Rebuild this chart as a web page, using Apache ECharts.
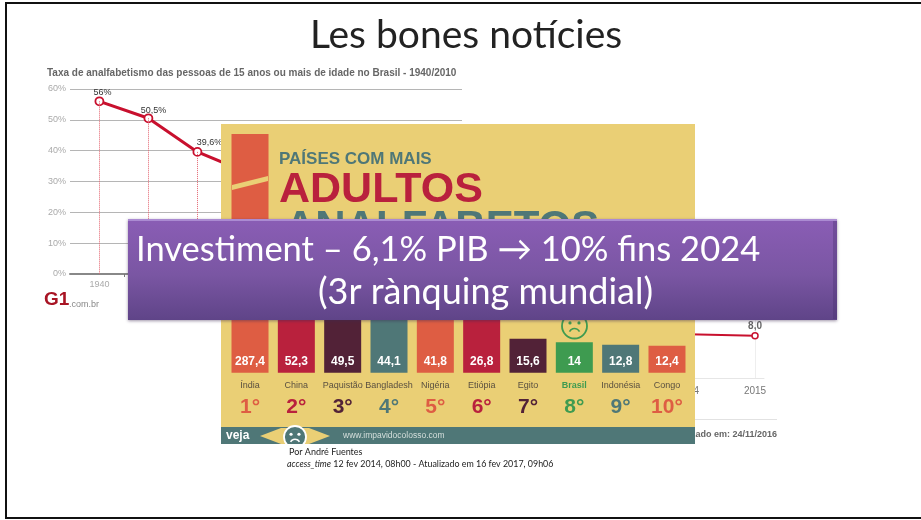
<!DOCTYPE html>
<html>
<head>
<meta charset="utf-8">
<title>Les bones notícies</title>
<script src="https://cdn.jsdelivr.net/npm/echarts@6/dist/echarts.min.js"></script>
<style>
html, body { margin: 0; padding: 0; background: #fff; }
#chart { width: 921px; height: 520px; }
</style>
</head>
<body>
<div id="chart"></div>
<script>
// taxa de analfabetismo (left line chart), only the start of the line is visible
var rateYears = [1940, 1950, 1960, 1970];
var rateValues = [56, 50.5, 39.6, 33];
var rateTickLabels = [1940, 1950, 1960, 1970, 1980, 1991, 2000, 2010];

// recent years (right line chart), mostly covered by the panel
var recentYears = [2014, 2015];
var recentValues = [8.3, 8.0];

// adults panel
var countries = ['Índia', 'China', 'Paquistão', 'Bangladesh', 'Nigéria', 'Etiópia', 'Egito', 'Brasil', 'Indonésia', 'Congo'];
var adults = [287.4, 52.3, 49.5, 44.1, 41.8, 26.8, 15.6, 14, 12.8, 12.4];
var ranks = ['1°', '2°', '3°', '4°', '5°', '6°', '7°', '8°', '9°', '10°'];
var barColors = ['#DE5D43', '#B9213D', '#522237', '#4F7777', '#DE5D43', '#B9213D', '#522237', '#3E9B50', '#4F7777', '#DE5D43'];

// labels of the left line do not sit straight above their points
var rateLabelShift = [[3, 4], [5, 5], [12, 3], [0, 0]];

var sans = '"Liberation Sans", Arial, sans-serif';
var slideFont = 'Lato, "Noto Sans", sans-serif';
var red = '#C8102E';
var teal = '#4F7777';

function comma(v) {
	return String(v).replace('.', ',');
}

var rich = {};
countries.forEach(function(c, i) {
	rich['n' + i] = { fontFamily: sans, fontSize: 9, lineHeight: 14, color: i == 7 ? '#3E9B50' : '#5a5040', fontWeight: i == 7 ? 'bold' : 'normal' };
	rich['r' + i] = { fontFamily: sans, fontSize: 21, lineHeight: 30, color: barColors[i], fontWeight: 'bold' };
});

function rect(x, y, w, h, fill, z) {
	return { type: 'rect', silent: true, z: z, shape: { x: x, y: y, width: w, height: h }, style: { fill: fill } };
}

function text(str, x, y, font, fill, z, align, weight) {
	return {
		type: 'text', silent: true, z: z, x: x, y: y,
		style: { text: str, fontFamily: font[0], fontSize: font[1], fontWeight: weight || 'normal', fill: fill, align: align || 'left', verticalAlign: 'middle' }
	};
}

function face(cx, cy, r, stroke, fill, z) {
	return [
		{ type: 'circle', silent: true, z: z, shape: { cx: cx, cy: cy, r: r }, style: { fill: fill, stroke: stroke, lineWidth: 1.8 } },
		{ type: 'circle', silent: true, z: z + 1, shape: { cx: cx - r * 0.36, cy: cy - r * 0.25, r: 1.6 }, style: { fill: stroke } },
		{ type: 'circle', silent: true, z: z + 1, shape: { cx: cx + r * 0.36, cy: cy - r * 0.25, r: 1.6 }, style: { fill: stroke } },
		{ type: 'arc', silent: true, z: z + 1, shape: { cx: cx, cy: cy + r * 0.65, r: r * 0.45, startAngle: Math.PI * 1.15, endAngle: Math.PI * 1.85 }, style: { fill: null, stroke: stroke, lineWidth: 1.6 } }
	];
}

var decorations = [
	// slide frame
	rect(5, 2, 916, 2, '#111', 30),
	rect(5, 2, 2, 517, '#111', 30),
	rect(5, 517, 916, 2, '#111', 30),

	// g1 logo
	text('G1', 44, 300, [sans, 19], '#A81424', 1, 'left', 'bold'),
	text('.com.br', 69, 305, [sans, 9], '#888', 1),

	// right chart footer, cut by the panel
	rect(640, 419, 137, 1, '#e2e2e2', 1),
	text('Atualizado em: 24/11/2016', 777, 435, [sans, 9], '#666', 1, 'right', 'bold'),

	// panel
	rect(221, 124, 474, 320, '#EACF75', 10),
	{ type: 'polygon', silent: true, z: 12, shape: { points: [[232, 185], [268, 176], [268, 181], [232, 190]] }, style: { fill: '#EACF75' } },
	text('PAÍSES COM MAIS', 279, 159, [sans, 17], teal, 12, 'left', 'bold'),
	text('ADULTOS', 279, 190, [sans, 43], '#B9213D', 12, 'left', 'bold'),
	text('ANALFABETOS', 285, 228, [sans, 42], teal, 12, 'left', 'bold'),

	// panel footer
	rect(221, 427, 474, 17, teal, 12),
	{ type: 'polygon', silent: true, z: 13, shape: { points: [[260, 436], [281, 428], [309, 428], [330, 436], [309, 444], [281, 444]] }, style: { fill: '#EACF75' } },
	rect(280, 444, 30, 6, '#fff', 16),
	text('veja', 226, 436, [sans, 12], '#fff', 13, 'left', 'bold'),
	text('www.impavidocolosso.com', 343, 436, [sans, 8.5], '#d5dfdc', 13),

	// source under the panel
	text('Por André Fuentes', 289, 452, [slideFont, 9], '#222', 17),
	{
		type: 'text', silent: true, z: 17, x: 287, y: 464,
		style: {
			text: '{i|access_time} 12 fev 2014, 08h00 - Atualizado em 16 fev 2017, 09h06',
			fontFamily: slideFont, fontSize: 8.9, fill: '#222', verticalAlign: 'middle',
			rich: { i: { fontFamily: slideFont, fontSize: 8.9, fontStyle: 'italic', fill: '#222' } }
		}
	},

	// slide title
	text('Les bones notícies', 466, 35, [slideFont, 39], '#222', 30, 'center'),

	// purple banner
	{
		type: 'rect', silent: true, z: 20, shape: { x: 128, y: 219, width: 709, height: 101 },
		style: {
			fill: { type: 'linear', x: 0, y: 0, x2: 0, y2: 1, colorStops: [{ offset: 0, color: '#8A5DB5' }, { offset: 0.55, color: '#7A56A3' }, { offset: 1, color: '#5F4488' }] },
			shadowBlur: 3, shadowColor: 'rgba(60,40,80,0.5)', shadowOffsetY: 1
		}
	},
	rect(128, 219, 709, 2, '#AB8BD2', 21),
	rect(833, 221, 4, 98, 'rgba(70,45,110,0.35)', 21),
	text('Investiment – 6,1% PIB → 10% fins 2024', 136, 250, [slideFont, 34.5], '#fff', 22),
	text('(3r rànquing mundial)', 485.5, 292, [slideFont, 36], '#fff', 22, 'center')
].concat(
	face(574.5, 326, 12.5, '#3E9B50', 'rgba(0,0,0,0)', 12),
	face(295, 437, 11, '#fff', teal, 14)
);

var chart = echarts.init(document.getElementById('chart'), null, { renderer: 'canvas' });
chart.setOption({
	animation: false,
	backgroundColor: '#fff',
	title: {
		text: 'Taxa de analfabetismo das pessoas de 15 anos ou mais de idade no Brasil - 1940/2010',
		left: 47,
		top: 68,
		padding: 0,
		textStyle: { fontFamily: sans, fontSize: 10, fontWeight: 'bold', color: '#666' }
	},
	grid: [
		{ left: 70, top: 89, width: 392, height: 185 },
		{ left: 621, top: 320, width: 143, height: 58 },
		{ left: 226.85, top: 134, width: 463.3, height: 238.7, z: 11 }
	],
	xAxis: [
		{
			type: 'value', gridIndex: 0, min: 1934, max: 2014, z: 0,
			splitLine: { show: false },
			axisLine: { onZero: false, lineStyle: { color: '#888', width: 2 } },
			axisTick: { customValues: [1945, 1955, 1965, 1975, 1985, 1995, 2005], length: 3, lineStyle: { color: '#777' } },
			axisLabel: { customValues: rateTickLabels, formatter: function(v) { return String(v); }, fontFamily: sans, fontSize: 9, color: '#aaa', margin: 6 }
		},
		{
			type: 'value', gridIndex: 1, min: 2013, max: 2015.134, interval: 1, z: 0,
			splitLine: { show: true, showMaxLine: false, lineStyle: { color: '#eeeeee' } },
			axisLine: { lineStyle: { color: '#e6e6e6' } },
			axisTick: { show: false },
			axisLabel: { customValues: recentYears, formatter: function(v) { return String(v); }, fontFamily: sans, fontSize: 10, color: '#777', margin: 8 }
		},
		{
			type: 'category', gridIndex: 2, data: countries, z: 11,
			axisLine: { show: false },
			axisTick: { show: false },
			axisLabel: {
				interval: 0, margin: 6, rich: rich, hideOverlap: false,
				formatter: function(v, i) { return '{n' + i + '|' + v + '}\n{r' + i + '|' + ranks[i] + '}'; }
			}
		}
	],
	yAxis: [
		{
			type: 'value', gridIndex: 0, min: 0, max: 60, interval: 10, z: 0,
			axisLine: { show: false },
			axisTick: { show: false },
			splitLine: { lineStyle: { color: '#b5b5b5' } },
			axisLabel: { formatter: '{value}%', fontFamily: sans, fontSize: 9, color: '#aaa', margin: 4 }
		},
		{ type: 'value', gridIndex: 1, min: 0, max: 11, show: false },
		{ type: 'value', gridIndex: 2, min: 0, max: 109.5, show: false }
	],
	series: [
		{
			type: 'line', xAxisIndex: 0, yAxisIndex: 0, z: 2,
			data: rateYears.map(function(y, i) {
				return { value: [y, rateValues[i]], label: { offset: rateLabelShift[i] } };
			}),
			symbol: 'circle', symbolSize: 8,
			itemStyle: { color: '#fff', borderColor: red, borderWidth: 1.8 },
			lineStyle: { color: red, width: 3 },
			label: {
				show: true, position: 'top', distance: 3, fontFamily: sans, fontSize: 9, color: '#333',
				formatter: function(p) { return comma(p.value[1]) + '%'; }
			},
			markLine: {
				silent: true, symbol: 'none', label: { show: false },
				lineStyle: { color: '#E4636F', type: 'dotted', width: 1 },
				data: rateYears.map(function(y, i) {
					return [{ coord: [y, rateValues[i]] }, { coord: [y, 0] }];
				})
			}
		},
		{
			type: 'line', xAxisIndex: 1, yAxisIndex: 1, z: 2,
			data: recentYears.map(function(y, i) { return [y, recentValues[i]]; }),
			symbol: 'circle', symbolSize: 6,
			itemStyle: { color: '#fff', borderColor: red, borderWidth: 1.5 },
			lineStyle: { color: red, width: 2 },
			label: {
				show: true, position: 'top', distance: 3, offset: [0, 2], fontFamily: sans, fontSize: 10, fontWeight: 'bold', color: '#666',
				formatter: function(p) { return comma(p.value[1].toFixed(1)); }
			}
		},
		{
			type: 'bar', xAxisIndex: 2, yAxisIndex: 2, z: 11, barWidth: 37,
			data: adults.map(function(v, i) {
				return { value: v, itemStyle: { color: barColors[i] } };
			}),
			label: {
				show: true, position: 'insideBottom', distance: 5, fontFamily: sans, fontSize: 12, fontWeight: 'bold', color: '#fff',
				formatter: function(p) { return comma(p.value); }
			}
		}
	],
	graphic: { elements: decorations }
});
</script>
</body>
</html>
